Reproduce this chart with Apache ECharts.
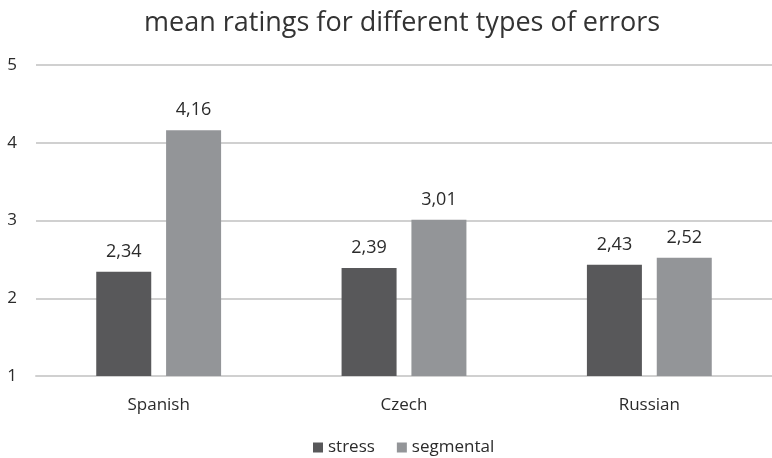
<!DOCTYPE html>
<html>
<head>
<meta charset="utf-8">
<script src="https://cdn.jsdelivr.net/npm/echarts@6/dist/echarts.min.js"></script>
<style>
  html, body { margin: 0; padding: 0; background: #fff; }
  #chart { width: 772px; height: 458px; }
</style>
</head>
<body>
<div id="chart"></div>
<script>
const titleText = 'mean ratings for different types of errors';
const categories = ['Spanish', 'Czech', 'Russian'];
const stressValues = [2.34, 2.39, 2.43];
const segmentalValues = [4.16, 3.01, 2.52];
const seriesNames = ['stress', 'segmental'];

const font = 'Open Sans';
const textColor = '#2b2b2b';
const fmt = p => p.value.toFixed(2).replace('.', ',');

const chart = echarts.init(document.getElementById('chart'), null, { renderer: 'canvas' });
chart.setOption({
  animation: false,
  backgroundColor: '#ffffff',
  title: {
    text: titleText,
    left: 139,
    top: 5,
    textStyle: { fontFamily: font, fontSize: 27, fontWeight: 'normal', color: '#333333' }
  },
  legend: {
    bottom: -3,
    left: 308,
    itemWidth: 10,
    itemHeight: 10,
    itemGap: 22,
    icon: 'rect',
    textStyle: { fontFamily: font, fontSize: 17, color: textColor }
  },
  grid: { left: 36, top: 65, width: 742, height: 311, containLabel: false },
  xAxis: {
    type: 'category',
    data: categories,
    axisLine: { lineStyle: { color: '#d0d0d0', width: 2 } },
    axisTick: { show: false },
    axisLabel: { fontFamily: font, fontSize: 17, color: textColor, margin: 21 }
  },
  yAxis: {
    type: 'value',
    min: 1,
    max: 5,
    interval: 1,
    axisLine: { show: false },
    axisTick: { show: false },
    splitLine: { lineStyle: { color: '#d0d0d0', width: 2 } },
    axisLabel: { fontFamily: font, fontSize: 17, color: textColor, margin: 19 }
  },
  series: [
    {
      name: seriesNames[0],
      type: 'bar',
      data: stressValues,
      barWidth: 55,
      barGap: '27%',
      itemStyle: { color: '#58585a' },
      label: { show: true, position: 'top', distance: 11, formatter: fmt,
               fontFamily: font, fontSize: 18, color: textColor }
    },
    {
      name: seriesNames[1],
      type: 'bar',
      data: segmentalValues,
      barWidth: 55,
      itemStyle: { color: '#939598' },
      label: { show: true, position: 'top', distance: 11, formatter: fmt,
               fontFamily: font, fontSize: 18, color: textColor }
    }
  ]
});
</script>
</body>
</html>
